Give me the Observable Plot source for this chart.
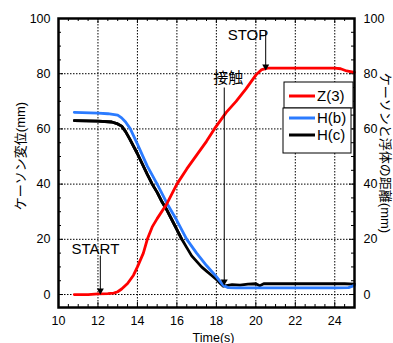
<!DOCTYPE html>
<html><head><meta charset="utf-8">
<script src="https://cdn.jsdelivr.net/npm/d3@7"></script>
<script src="https://cdn.jsdelivr.net/npm/@observablehq/plot@0.6"></script>
<style>body{margin:0;background:#fff}#chart{width:393px;height:343px}</style>
</head><body><div id="chart"></div>
<script>
// ---- data ----
const timeZ = [10.8,11.5,12,12.5,12.8,13.0,13.2,13.5,13.8,14.0,14.3,14.5,14.75,15.0,15.5,16.0,16.5,17.0,17.5,17.9,18.2,18.5,19.0,19.5,20.0,20.3,20.6,21,22,23,24,24.3,24.6,25];
const z3    = [0,0,0.2,0.3,0.5,1,2,4,7,10,15,20,24.5,27.5,33,40,45.5,50.5,55.5,60,63,66,70,74.5,79.5,81.5,82,82,82,82,82,81.8,81,80.5];
const timeB = [10.8,12,12.5,13.0,13.2,13.4,13.64,14.0,14.5,15.0,15.5,16.0,16.5,17.0,17.5,18.0,18.35,18.6,19,20,22,24,24.7,25];
const hb    = [66,65.7,65.5,65,64,62.5,60,54.5,46.5,40,33,26.8,20,15,10.5,6.5,3.3,2.5,2.4,2.4,2.4,2.4,2.5,3.3];
const timeC = [10.8,12,12.7,13.0,13.2,13.4,13.6,14.0,14.5,14.75,15.0,15.25,15.5,15.75,16.0,16.25,16.5,16.75,17.0,17.25,17.5,17.75,18.0,18.2,18.35,18.5,18.8,19.2,19.6,20.0,20.2,20.4,21,22,23,24,24.5,25];
const hc    = [63,62.8,62.5,61.8,61,59,56.5,51,43.5,40,37,33.5,30.5,27,23.5,20,17,14,12,10,8.5,7,5.5,4,3,3.2,3.6,3.4,3.8,3.9,3.2,3.9,3.9,3.9,3.9,3.9,3.9,3.8];
const seriesNames = ["Z(3)","H(b)","H(c)"];
const seriesColors = ["#ff0000","#2b7bff","#000000"];

const xTicks = [10,12,14,16,18,20,22,24];
const xMinor = [10.5,11,11.5,12.5,13,13.5,14.5,15,15.5,16.5,17,17.5,18.5,19,19.5,20.5,21,21.5,22.5,23,23.5,24.5];
const yTicks = [0,20,40,60,80,100];
const yMinor = [5,10,15,25,30,35,45,50,55,65,70,75,85,90,95];

const annoLabels = ["STOP","接触","START"];
const annoTextX = [19.6,18.6,11.87];
const annoTextY = [93.8,78.3,16.3];
const arrowX  = [20.5,18.4,12.12];
const arrowY1 = [95.6,75,14.1];
const arrowY2 = [81.9,4,0.7];

const xLabel = "Time(s)";
const yLabelLeft = "ケーソン変位(mm)";
const yLabelRight = "ケーソンと浮体の距離(mm)";

// ---- build ----
const FONT = '"Liberation Sans", Arial, "Noto Sans CJK JP", sans-serif';
const W = 393, H = 343, mL = 58, mR = 39, mT = 18, mB = 36;
const pw = W - mL - mR, ph = H - mT - mB;

const zData = timeZ.map((t,i)=>({t, v: z3[i]}));
const bData = timeB.map((t,i)=>({t, v: hb[i]}));
const cData = timeC.map((t,i)=>({t, v: hc[i]}));
const anno = annoLabels.map((s,i)=>({s, tx: annoTextX[i], ty: annoTextY[i], ax: arrowX[i], y1: arrowY1[i], y2: arrowY2[i]}));

const plot = Plot.plot({
  width: W, height: H,
  marginLeft: mL, marginRight: mR, marginTop: mT, marginBottom: mB,
  style: {fontFamily: FONT, fontSize: "12.5px", background: "#fff", color: "#000"},
  x: {domain: [10, 25]},
  y: {domain: [-4.7, 100]},
  marks: [
    Plot.gridX(xTicks, {stroke: "#000", strokeOpacity: 1, strokeDasharray: "1.5,1.5"}),
    Plot.gridY(yTicks, {stroke: "#000", strokeOpacity: 1, strokeDasharray: "1.5,1.5"}),
    // inward ticks
    Plot.tickX(xTicks, {x: d=>d, insetTop: ph-5}),
    Plot.tickX(xTicks, {x: d=>d, insetBottom: ph-5}),
    Plot.tickX(xMinor, {x: d=>d, insetTop: ph-3}),
    Plot.tickX(xMinor, {x: d=>d, insetBottom: ph-3}),
    Plot.tickY(yTicks, {y: d=>d, insetRight: pw-5}),
    Plot.tickY(yTicks, {y: d=>d, insetLeft: pw-5}),
    Plot.tickY(yMinor, {y: d=>d, insetRight: pw-3}),
    Plot.tickY(yMinor, {y: d=>d, insetLeft: pw-3}),
    Plot.axisX({ticks: xTicks, tickSize: 0, tickPadding: 9, label: null}),
    Plot.axisY({anchor: "left", ticks: yTicks, tickSize: 0, tickPadding: 8, label: null}),
    Plot.axisY({anchor: "right", ticks: yTicks, tickSize: 0, tickPadding: 9, label: null}),
    // data lines
    Plot.line(cData, {x: "t", y: "v", stroke: seriesColors[2], strokeWidth: 2.8}),
    Plot.line(bData, {x: "t", y: "v", stroke: seriesColors[1], strokeWidth: 2.8}),
    Plot.line(cData.filter(d=>d.t<=16.3), {x: "t", y: "v", stroke: seriesColors[2], strokeWidth: 2.8}),
    Plot.line(zData, {x: "t", y: "v", stroke: seriesColors[0], strokeWidth: 2.8}),
    // annotations
    Plot.link(anno, {x1: "ax", x2: "ax", y1: "y1", y2: "y2", stroke: "#000", strokeWidth: 1}),
    Plot.dot(anno, {x: "ax", y: "y2", symbol: "triangle", rotate: 180, r: 2.6, fill: "#000", stroke: null, dy: -2}),
    Plot.text(anno, {x: "tx", y: "ty", text: "s", fontSize: 15, fill: "#000"}),
    Plot.frame({stroke: "#000", strokeWidth: 2.5}),
    // axis titles
    Plot.text([xLabel], {frameAnchor: "bottom", text: d=>d, textAnchor: "middle", lineAnchor: "middle", dy: 30, dx: 7, fontSize: 12.5}),
    Plot.text([yLabelLeft], {frameAnchor: "left", text: d=>d, textAnchor: "middle", lineAnchor: "middle", rotate: -90, dx: -38, dy: -7, fontSize: 13}),
    Plot.text([yLabelRight], {frameAnchor: "right", text: d=>d, textAnchor: "middle", lineAnchor: "middle", rotate: 90, dx: 31, dy: -10, fontSize: 13})
  ]
});
document.getElementById("chart").appendChild(plot);

// legend
const svg = d3.select(plot);
const lg = svg.append("g").attr("font-family", FONT).attr("font-size", 15).attr("text-anchor", "start");
lg.append("rect").attr("x", 284).attr("y", 82).attr("width", 69).attr("height", 26).attr("fill", "#fff").attr("stroke", "#000");
lg.append("rect").attr("x", 283).attr("y", 108).attr("width", 68).attr("height", 45).attr("fill", "#fff").attr("stroke", "#000");
const ly = [96, 118, 135];
seriesNames.forEach((n,i)=>{
  lg.append("line").attr("x1", 289).attr("x2", 315).attr("y1", ly[i]).attr("y2", ly[i]).attr("stroke", seriesColors[i]).attr("stroke-width", 3);
  lg.append("text").attr("x", 317).attr("y", ly[i]).attr("dy", "0.35em").attr("text-anchor", "start").text(n);
});
</script>
</body></html>
